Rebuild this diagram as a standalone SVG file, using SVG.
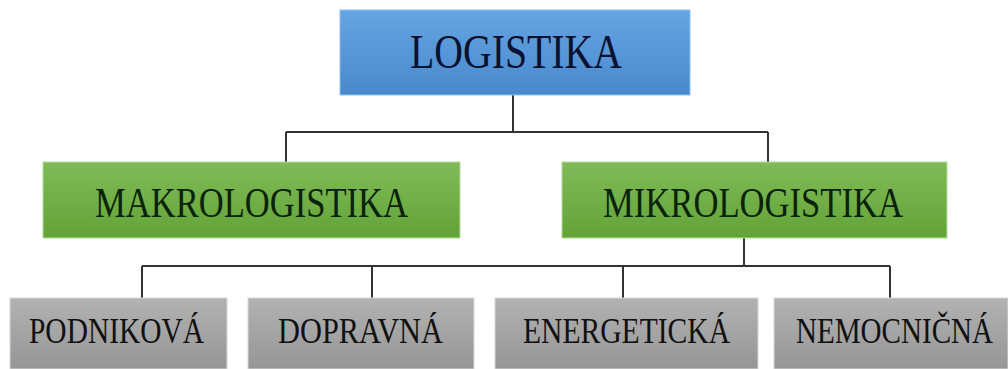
<svg xmlns="http://www.w3.org/2000/svg" width="1008" height="369" viewBox="0 0 1008 369">
<defs>
<linearGradient id="gBlue" x1="0" y1="0" x2="0" y2="1">
<stop offset="0" stop-color="#64a5e3"/>
<stop offset="1" stop-color="#4a88cc"/>
</linearGradient>
<linearGradient id="gGreen" x1="0" y1="0" x2="0" y2="1">
<stop offset="0" stop-color="#80bb58"/>
<stop offset="1" stop-color="#62a336"/>
</linearGradient>
<linearGradient id="gGray" x1="0" y1="0" x2="0" y2="1">
<stop offset="0" stop-color="#b2b2b2"/>
<stop offset="1" stop-color="#969696"/>
</linearGradient>
</defs>
<style>
.t{font-family:"Liberation Serif","Times New Roman",serif;text-anchor:middle}
.blue{fill:url(#gBlue);stroke:#8fc0ec;stroke-width:1}
.green{fill:url(#gGreen);stroke:#b6dc9c;stroke-width:1}
.gray{fill:url(#gGray);stroke:#d8d8d8;stroke-width:1}
.c{fill:none;stroke:#333;stroke-width:2}
</style>
<rect width="1008" height="369" fill="#fff"/>
<g id="connectors">
<path class="c" d="M513 95V132M286 132H768M286 132V162M768 132V162"/>
<path class="c" d="M744 238V266M142 266H890M142 266V298M372 266V298M623 266V298M890 266V298"/>
</g>
<g id="logistika">
<rect class="blue" x="340" y="10" width="350" height="85"/>
<text class="t" x="516" y="68" font-size="49" fill="#0b1230" textLength="212" lengthAdjust="spacingAndGlyphs">LOGISTIKA</text>
</g>
<g id="makrologistika">
<rect class="green" x="43" y="162" width="417" height="76"/>
<text class="t" x="251.5" y="217" font-size="43" fill="#0b220b" textLength="313" lengthAdjust="spacingAndGlyphs">MAKROLOGISTIKA</text>
</g>
<g id="mikrologistika">
<rect class="green" x="562" y="162" width="385" height="76"/>
<text class="t" x="753" y="217" font-size="43" fill="#0b220b" textLength="300" lengthAdjust="spacingAndGlyphs">MIKROLOGISTIKA</text>
</g>
<g id="podnikova">
<rect class="gray" x="10" y="298" width="217" height="71"/>
<text class="t" x="116.5" y="343" font-size="35" fill="#111" textLength="175" lengthAdjust="spacingAndGlyphs">PODNIKOVÁ</text>
</g>
<g id="dopravna">
<rect class="gray" x="248" y="298" width="226" height="71"/>
<text class="t" x="360.5" y="343" font-size="35" fill="#111" textLength="165" lengthAdjust="spacingAndGlyphs">DOPRAVNÁ</text>
</g>
<g id="energeticka">
<rect class="gray" x="495" y="298" width="263" height="71"/>
<text class="t" x="626.5" y="343" font-size="35" fill="#111" textLength="207" lengthAdjust="spacingAndGlyphs">ENERGETICKÁ</text>
</g>
<g id="nemocnicna">
<rect class="gray" x="774" y="298" width="234" height="71"/>
<text class="t" x="0" y="0" font-size="35" fill="#111" transform="translate(894.5,343) scale(0.831,1)">NEMOCNIČNÁ</text>
</g>
</svg>
